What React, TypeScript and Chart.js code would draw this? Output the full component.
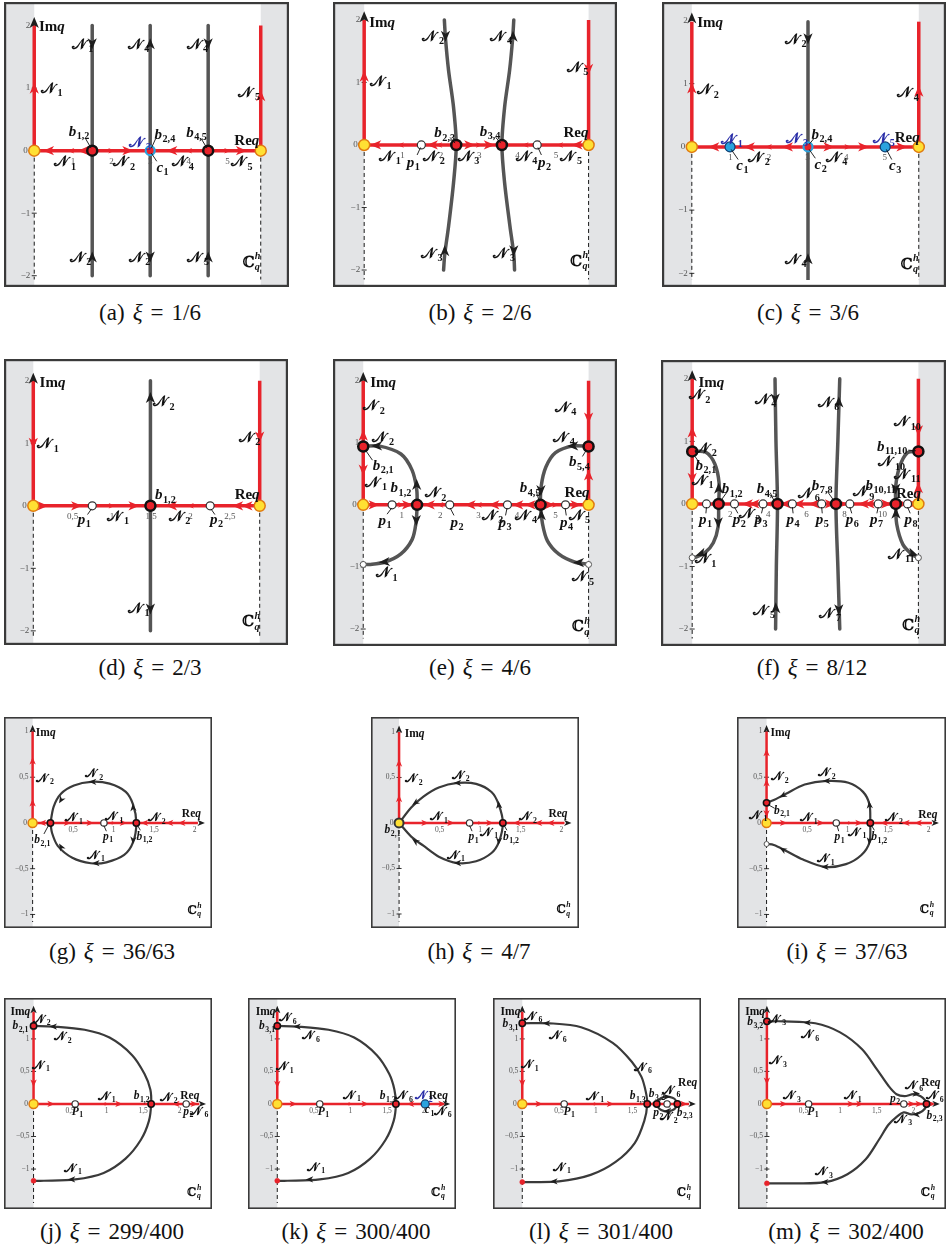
import { useEffect, useRef } from 'react';
import { Chart, registerables } from 'chart.js';

Chart.register(...registerables);

type P = [number, number];
type Arrow = [number, number, number, number?];
type Label = [string, number, number, string?, string?];
type Leader = [number, number, number, number];

// shared tick lists
const Y_TICKS_BIG: [number, string][] = [[2, '2'], [1, '1'], [0, '0'], [-1, '\u22121'], [-2, '\u22122']];
const Y_TICKS_SMALL: [number, string][] = [[1, '1'], [0.5, '0,5'], [0, '0'], [-0.5, '\u22120,5'], [-1, '\u22121']];
const X_TICKS_INT: [number, string][] = [[1, '1'], [2, '2'], [3, '3'], [4, '4'], [5, '5']];
const X_TICKS_HALF: [number, string][] = [[0.5, '0,5'], [1, '1'], [1.5, '1,5'], [2, '2'], [2.5, '2,5']];
const X_TICKS_EVEN: [number, string][] = [[2, '2'], [4, '4'], [6, '6'], [8, '8'], [10, '10']];
const X_TICKS_SMALL: [number, string][] = [[0.5, '0,5'], [1, '1'], [1.5, '1,5'], [2, '2']];

// ---------------- (a) xi = 1/6
const A_RED: P[][] = [[[0, 0], [0, 2]], [[0, 0], [5.86, 0]], [[5.86, 0], [5.86, 2]]];
const A_GREY: P[][] = [[[1.5, 2], [1.5, -2]], [[3, 2], [3, -2]], [[4.5, 2], [4.5, -2]]];
const A_DASH: P[][] = [[[0, 0], [0, -2.2]], [[5.86, 0], [5.86, -2.2]]];
const A_RED_ARROWS: Arrow[] = [[0, 1.0, 90], [5.86, 0.88, 90], [0.37, 0, 180], [0.95, 0, 180, 0.6], [1.27, 0, 180], [2.0, 0, 0, 0.6], [2.42, 0, 0], [3.56, 0, 180], [4.0, 0, 180, 0.6], [5.0, 0, 0, 0.6], [5.36, 0, 0]];
const A_BLACK_ARROWS: Arrow[] = [[0, 2.05, 90], [1.5, 1.71, 270], [1.5, -1.7, 90], [3, 1.71, 90], [3, -1.7, 270], [4.5, 1.71, 270], [4.5, -1.7, 90]];
const A_YELLOW: P[] = [[0, 0], [5.86, 0]];
const A_BRANCH: P[] = [[1.5, 0], [4.5, 0]];
const A_CRITB: P[] = [[3, 0]];
const A_LABELS: Label[] = [
  ['Imq', 0.12, 2.0, 'l'], ['N_1', 0.17, 1.0, 'l'], ['N_1', 1.25, 1.71], ['N_4', 2.7, 1.71], ['N_4', 4.22, 1.71],
  ['N_5', 5.56, 0.94], ['b_{1,2}', 1.16, 0.32], ['N_3', 2.74, 0.14, 'c', 'blue'], ['b_{2,4}', 3.38, 0.27],
  ['b_{4,5}', 4.2, 0.3], ['Req', 5.5, 0.17], ['N_1', 0.8, -0.17], ['N_2', 2.33, -0.17], ['c_1', 3.32, -0.26],
  ['N_4', 3.85, -0.17], ['N_5', 5.37, -0.17], ['N_2', 1.2, -1.7], ['N_2', 2.72, -1.7], ['N_5', 4.24, -1.7], ['C_q^h', 5.62, -1.78],
];
const A_LEADERS: Leader[] = [[1.33, 0.19, 1.47, 0.04], [3.14, 0.19, 3.03, 0.04], [4.32, 0.19, 4.47, 0.04], [3.03, -0.04, 3.17, -0.17]];

// ---------------- (b) xi = 2/6
const B_RED: P[][] = [[[0, 0], [0, 2]], [[0, 0], [5.85, 0]], [[5.85, 0], [5.85, 2]]];
const B_GREY: P[][] = [
  [[2.09, 2.0], [2.12, 1.7], [2.2, 1.19], [2.33, 0.6], [2.4, 0], [2.33, -0.6], [2.2, -1.3], [2.1, -1.75], [2.07, -2.0]],
  [[3.9, 2.0], [3.87, 1.7], [3.79, 1.19], [3.66, 0.6], [3.59, 0], [3.66, -0.6], [3.8, -1.3], [3.9, -1.75], [3.92, -2.0]],
];
const B_DASH: P[][] = [[[0, 0], [0, -2.2]], [[5.85, 0], [5.85, -2.2]]];
const B_RED_ARROWS: Arrow[] = [[0, 1.1, 90], [5.85, 1.21, 270], [0.3, 0, 180], [0.95, 0, 180, 0.6], [1.78, 0, 180], [1.95, 0, 180, 0.6], [2.75, 0, 0], [3.0, 0, 0, 0.6], [3.26, 0, 0], [4.2, 0, 180, 0.6], [4.45, 0, 180], [5.1, 0, 180, 0.6], [5.55, 0, 180]];
const B_BLACK_ARROWS: Arrow[] = [[0, 2.05, 90], [2.12, 1.74, 270], [2.1, -1.69, 90], [3.88, 1.74, 90], [3.9, -1.69, 270]];
const B_YELLOW: P[] = [[0, 0], [5.85, 0]];
const B_BRANCH: P[] = [[2.4, 0], [3.59, 0]];
const B_POLES: P[] = [[1.49, 0], [4.51, 0]];
const B_LABELS: Label[] = [
  ['Imq', 0.13, 1.97, 'l'], ['N_1', 0.15, 1.03, 'l'], ['N_2', 1.8, 1.74], ['N_4', 3.57, 1.74], ['N_5', 5.56, 1.25],
  ['b_{2,3}', 2.1, 0.2], ['b_{3,4}', 3.28, 0.22], ['Req', 5.52, 0.2], ['N_1', 0.67, -0.18], ['p_1', 1.28, -0.27],
  ['N_2', 1.82, -0.18], ['N_3', 2.72, -0.18], ['N_4', 4.23, -0.18], ['p_2', 4.7, -0.27], ['N_5', 5.4, -0.18],
  ['N_3', 1.76, -1.73], ['N_3', 3.65, -1.73], ['C_q^h', 5.6, -1.85],
];
const B_LEADERS: Leader[] = [[2.24, 0.12, 2.37, 0.03], [3.43, 0.12, 3.56, 0.03], [1.47, -0.04, 1.38, -0.16], [4.53, -0.04, 4.62, -0.16]];

// ---------------- (c) xi = 3/6
const C_RED: P[][] = [[[0, 0], [0, 1.98]], [[0, 0], [5.88, 0]], [[5.88, 0], [5.88, 1.98]]];
const C_GREY: P[][] = [[[3.01, 1.98], [3.01, -2.1]]];
const C_DASH: P[][] = [[[0, 0], [0, -2.2]], [[5.88, 0], [5.88, -2.2]]];
const C_RED_ARROWS: Arrow[] = [[0, 0.93, 90], [5.88, 0.88, 90], [0.57, 0, 180], [1.49, 0, 180], [1.99, 0, 180, 0.6], [2.48, 0, 180], [3.55, 0, 0], [4.04, 0, 0, 0.6], [4.45, 0, 0], [5.44, 0, 0]];
const C_BLACK_ARROWS: Arrow[] = [[0, 2.04, 90], [3.01, 1.71, 270], [3.01, -1.77, 90]];
const C_YELLOW: P[] = [[0, 0], [5.88, 0]];
const C_CRIT: P[] = [[0.99, 0], [5.01, 0]];
const C_CRITB: P[] = [[3.01, 0]];
const C_LABELS: Label[] = [
  ['Imq', 0.14, 1.98, 'l'], ['N_2', 0.14, 0.91, 'l'], ['N_2', 2.69, 1.71], ['N_4', 5.6, 0.86],
  ['N_1', 1.04, 0.13, 'c', 'blue'], ['N_3', 2.73, 0.14, 'c', 'blue'], ['b_{2,4}', 3.37, 0.2], ['N_5', 4.98, 0.14, 'c', 'blue'],
  ['Req', 5.58, 0.16], ['c_1', 1.31, -0.29], ['N_2', 1.74, -0.16], ['c_2', 3.34, -0.27], ['N_4', 3.75, -0.16],
  ['c_3', 5.27, -0.28], ['N_4', 2.69, -1.77], ['C_q^h', 5.64, -1.85],
];
const C_LEADERS: Leader[] = [[1.02, -0.04, 1.2, -0.2], [3.04, 0.04, 3.16, 0.13], [3.04, -0.04, 3.2, -0.18], [5.04, -0.04, 5.18, -0.2]];

// ---------------- (d) xi = 2/3
const D_RED: P[][] = [[[0, 0], [0, 2]], [[0, 0], [2.88, 0]], [[2.88, 0], [2.88, 2]]];
const D_GREY: P[][] = [[[1.49, 2.0], [1.49, -2.0]]];
const D_DASH: P[][] = [[[0, 0], [0, -2.2]], [[2.88, 0], [2.88, -2.2]]];
const D_RED_ARROWS: Arrow[] = [[0, 1.0, 270], [2.88, 1.1, 270], [0.12, 0, 0], [0.55, 0, 0], [1.0, 0, 0, 0.6], [1.28, 0, 0], [1.76, 0, 180], [2.0, 0, 180, 0.6], [2.6, 0, 180], [2.72, 0, 180]];
const D_BLACK_ARROWS: Arrow[] = [[0, 2.04, 90], [1.49, 1.73, 90], [1.49, -1.65, 270]];
const D_YELLOW: P[] = [[0, 0], [2.88, 0]];
const D_BRANCH: P[] = [[1.49, 0]];
const D_POLES: P[] = [[0.75, 0], [2.25, 0]];
const D_LABELS: Label[] = [
  ['Imq', 0.08, 1.98, 'l'], ['N_1', 0.05, 1.0, 'l'], ['N_2', 1.66, 1.67], ['N_2', 2.75, 1.1], ['b_{1,2}', 1.68, 0.18],
  ['Req', 2.72, 0.18], ['p_1', 0.65, -0.21], ['N_1', 1.08, -0.16], ['N_2', 1.86, -0.16], ['p_2', 2.33, -0.21],
  ['N_1', 1.34, -1.63], ['C_q^h', 2.77, -1.85],
];
const D_LEADERS: Leader[] = [[0.74, -0.05, 0.69, -0.14], [2.26, -0.05, 2.31, -0.14]];

// ---------------- (e) xi = 4/6
const E_RED: P[][] = [[[0, 0], [0, 2]], [[0, 0], [5.86, 0]], [[5.86, 0], [5.86, 2]]];
const E_GREY: P[][] = [
  [[0, 0.94], [0.4, 0.95], [0.98, 0.82], [1.27, 0.56], [1.39, 0.25], [1.4, 0], [1.37, -0.3], [1.27, -0.56], [0.98, -0.79], [0.57, -0.92], [0.16, -0.96], [0, -0.96]],
  [[5.86, 0.94], [5.45, 0.95], [5.0, 0.84], [4.75, 0.61], [4.63, 0.31], [4.61, 0], [4.66, -0.3], [4.79, -0.58], [5.08, -0.79], [5.49, -0.92], [5.86, -0.96]],
];
const E_DASH: P[][] = [[[0, 0], [0, -2.2]], [[5.86, 0], [5.86, -2.2]]];
const E_RED_ARROWS: Arrow[] = [[0, 1.12, 90], [0, 0.56, 270], [5.86, 1.4, 270], [5.86, 0.48, 90], [0.28, 0, 0], [0.99, 0, 0, 0.6], [1.15, 0, 0], [1.72, 0, 180], [2.0, 0, 180, 0.6], [2.78, 0, 180], [3.0, 0, 180, 0.6], [3.4, 0, 180], [4.02, 0, 180], [4.34, 0, 180], [4.84, 0, 0], [5.0, 0, 0, 0.6], [5.53, 0, 0]];
const E_BLACK_ARROWS: Arrow[] = [[0, 2.05, 90], [0.35, 0.95, 180], [1.39, 0.33, 90], [1.38, -0.25, 270], [0.55, -0.92, 185], [5.45, 0.95, 180], [4.62, 0.23, 270], [4.63, -0.16, 90], [5.6, -0.93, 180]];
const E_YELLOW: P[] = [[0, 0], [5.86, 0]];
const E_BRANCH: P[] = [[0, 0.94], [1.4, 0], [4.61, 0], [5.86, 0.94]];
const E_POLES: P[] = [[0.75, 0], [2.25, 0], [3.75, 0], [5.26, 0]];
const E_SMALLW: P[] = [[0, -0.96], [5.86, -0.96]];
const E_LABELS: Label[] = [
  ['Imq', 0.18, 1.98, 'l'], ['N_2', 0.28, 1.6], ['N_2', 0.52, 1.1], ['b_{2,1}', 0.52, 0.64], ['N_1', 0.34, 0.37],
  ['b_{1,2}', 0.98, 0.28], ['N_2', 1.88, 0.2], ['N_4', 5.26, 1.58], ['N_4', 5.22, 1.1], ['b_{5,4}', 5.62, 0.7],
  ['b_{4,5}', 4.34, 0.28], ['Req', 5.56, 0.21], ['p_1', 0.57, -0.24], ['p_2', 2.44, -0.27], ['N_3', 3.36, -0.16],
  ['p_3', 3.69, -0.27], ['N_4', 4.24, -0.16], ['p_4', 5.29, -0.27], ['N_5', 5.62, -0.16], ['N_1', 0.61, -1.09],
  ['N_5', 5.72, -1.15], ['C_q^h', 5.66, -1.96],
];
const E_LEADERS: Leader[] = [[0.06, 0.88, 0.24, 0.72], [0.74, -0.05, 0.62, -0.15], [2.26, -0.05, 2.36, -0.17], [3.74, -0.05, 3.7, -0.17], [5.25, -0.05, 5.28, -0.17], [5.8, 0.88, 5.7, 0.78], [4.5, 0.22, 4.58, 0.05]];

// ---------------- (f) xi = 8/12
const F_RED: P[][] = [[[0, 0], [0, 2]], [[0, 0], [11.88, 0]], [[11.88, 0], [11.88, 2]]];
const F_GREY: P[][] = [
  [[0, 0.84], [0.7, 0.83], [1.19, 0.64], [1.41, 0.34], [1.39, 0], [1.36, -0.37], [1.11, -0.62], [0.7, -0.77], [0.2, -0.85], [0, -0.86]],
  [[4.35, 2.0], [4.4, 1.0], [4.48, 0], [4.42, -1.0], [4.38, -2.0]],
  [[7.75, 2.0], [7.65, 1.0], [7.55, 0], [7.65, -1.0], [7.75, -2.0]],
  [[11.88, 0.84], [11.31, 0.82], [10.9, 0.6], [10.69, 0.29], [10.69, 0], [10.74, -0.32], [11.07, -0.65], [11.56, -0.81], [11.88, -0.86]],
];
const F_DASH: P[][] = [[[0, 0], [0, -2.2]], [[11.88, 0], [11.88, -2.2]]];
const F_RED_ARROWS: Arrow[] = [[0, 1.15, 90], [0, 0.41, 270], [11.88, 1.17, 270], [11.88, 0.26, 90], [2.9, 0, 180], [3.25, 0, 180], [4.0, 0, 180, 0.6], [4.9, 0, 180], [5.6, 0, 180], [6.4, 0, 180], [7.25, 0, 0], [8.0, 0, 0, 0.6], [9.0, 0, 180], [9.3, 0, 180], [10.2, 0, 0], [11.05, 0, 0], [11.6, 0, 0]];
const F_BLACK_ARROWS: Arrow[] = [[0, 2.05, 90], [1.39, 0.25, 90], [1.37, -0.3, 270], [0.45, -0.8, 200], [4.36, 1.68, 270], [4.39, -1.66, 90], [7.7, 1.63, 90], [7.7, -1.69, 270], [10.69, 0.24, 270], [10.7, -0.15, 90], [11.6, -0.8, 340]];
const F_YELLOW: P[] = [[0, 0], [11.88, 0]];
const F_BRANCH: P[] = [[0, 0.84], [1.39, 0], [4.48, 0], [7.55, 0], [10.69, 0], [11.88, 0.84]];
const F_POLES: P[] = [[0.75, 0], [2.22, 0], [3.72, 0], [5.26, 0], [6.8, 0], [8.28, 0], [9.77, 0], [11.31, 0]];
const F_SMALLW: P[] = [[0, -0.86], [11.88, -0.86]];
const F_LABELS: Label[] = [
  ['Imq', 0.33, 1.95, 'l'], ['N_2', 0.39, 1.75], ['N_2', 0.72, 0.9], ['b_{2,1}', 0.72, 0.62], ['N_1', 0.55, 0.38],
  ['b_{1,2}', 2.1, 0.25], ['N_4', 3.85, 1.68], ['N_8', 7.16, 1.63], ['N_{10}', 11.31, 1.32], ['b_{11,10}', 10.5, 0.93],
  ['N_{10}', 10.48, 0.68], ['N_{11}', 11.31, 0.48], ['b_{4,5}', 3.93, 0.25], ['N_6', 6.13, 0.18], ['b_{7,8}', 6.83, 0.31],
  ['N_9', 8.99, 0.2], ['b_{10,11}', 9.9, 0.31], ['Req', 11.36, 0.18], ['p_1', 0.7, -0.24], ['p_2', 2.48, -0.24],
  ['N_3', 3.02, -0.15], ['p_3', 3.62, -0.24], ['p_4', 5.3, -0.24], ['p_5', 6.83, -0.24], ['p_6', 8.41, -0.24],
  ['p_7', 9.68, -0.24], ['p_8', 11.5, -0.24], ['N_1', 0.7, -0.87], ['N_{11}', 10.99, -0.8], ['N_5', 3.78, -1.69],
  ['N_7', 7.25, -1.74], ['C_q^h', 11.5, -1.93],
];
const F_LEADERS: Leader[] = [[0.75, -0.05, 0.72, -0.15], [2.22, -0.05, 2.4, -0.15], [3.72, -0.05, 3.64, -0.15], [5.26, -0.05, 5.3, -0.15], [6.8, -0.05, 6.83, -0.15], [8.28, -0.05, 8.38, -0.15], [9.77, -0.05, 9.7, -0.15], [11.31, -0.05, 11.45, -0.15], [1.5, 0.05, 1.85, 0.2], [4.3, 0.05, 4.1, 0.18], [7.45, 0.05, 7.1, 0.2], [11.35, 0.86, 11.75, 0.85], [0.1, 0.78, 0.4, 0.65]];

// ---------------- (g) xi = 36/63
const G_RED: P[][] = [[[0, 0], [0, 1.0]], [[0, 0], [2.04, 0]]];
const G_GREY: P[][] = [[[0.22, 0], [0.26, 0.18], [0.35, 0.32], [0.51, 0.41], [0.72, 0.45], [0.95, 0.43], [1.15, 0.34], [1.24, 0.2], [1.28, 0], [1.24, -0.21], [1.13, -0.35], [0.91, -0.43], [0.72, -0.44], [0.49, -0.38], [0.31, -0.25], [0.24, -0.11], [0.22, 0]]];
const G_DASH: P[][] = [[[0, 0], [0, -1.12]]];
const G_RED_ARROWS: Arrow[] = [[0, 0.22, 90], [0, 0.68, 90], [0.12, 0, 180], [0.43, 0, 0], [0.71, 0, 0], [1.0, 0, 0, 0.6], [1.12, 0, 0], [1.38, 0, 180], [1.69, 0, 180], [1.84, 0, 180]];
const G_BLACK_ARROWS: Arrow[] = [[0, 1.03, 90], [2.08, 0, 0], [0.74, 0.45, 180], [0.35, 0.25, 240], [1.24, 0.17, 95], [1.24, -0.19, 265], [0.78, -0.44, 180], [0.35, -0.26, 120]];
const G_YELLOW: P[] = [[0, 0]];
const G_BRANCH: P[] = [[0.22, 0], [1.28, 0]];
const G_POLES: P[] = [[0.88, 0]];
const G_LABELS: Label[] = [
  ['Imq', 0.04, 0.99, 'l'], ['N_2', 0.04, 0.49, 'l'], ['N_2', 0.76, 0.54], ['N_1', 0.51, 0.06], ['N_1', 1.01, 0.07],
  ['N_2', 1.53, 0.06], ['Req', 1.96, 0.11], ['b_{2,1}', 0.12, -0.18], ['p_1', 0.93, -0.14], ['b_{1,2}', 1.38, -0.14],
  ['N_1', 0.78, -0.35], ['C_q^h', 2.0, -0.95],
];
const G_LEADERS: Leader[] = [[0.2, -0.02, 0.14, -0.12], [0.88, -0.03, 0.91, -0.09], [1.29, -0.02, 1.33, -0.08]];

// ---------------- (h) xi = 4/7
const H_RED: P[][] = [[[0, 0], [0, 1.0]], [[0, 0], [2.04, 0]]];
const H_GREY: P[][] = [[[0, 0], [0.15, 0.17], [0.3, 0.29], [0.49, 0.39], [0.72, 0.44], [0.95, 0.43], [1.14, 0.34], [1.23, 0.2], [1.28, 0], [1.23, -0.21], [1.14, -0.33], [0.95, -0.42], [0.72, -0.44], [0.49, -0.37], [0.3, -0.25], [0.15, -0.15], [0, 0]]];
const H_DASH: P[][] = [[[0, 0], [0, -1.12]]];
const H_RED_ARROWS: Arrow[] = [[0, 0.27, 90], [0, 0.66, 90], [0.32, 0, 0], [0.64, 0, 0], [1.0, 0, 0, 0.6], [1.12, 0, 0], [1.45, 0, 180], [1.72, 0, 180], [1.87, 0, 180]];
const H_BLACK_ARROWS: Arrow[] = [[0, 1.03, 90], [2.08, 0, 0], [0.72, 0.44, 180], [0.2, 0.22, 215], [1.23, 0.2, 95], [1.23, -0.2, 265], [0.72, -0.44, 180], [0.2, -0.2, 145]];
const H_YRING: P[] = [[0, 0]];
const H_BRANCH: P[] = [[1.28, 0]];
const H_POLES: P[] = [[0.87, 0]];
const H_LABELS: Label[] = [
  ['Imq', 0.07, 0.99, 'l'], ['N_2', 0.07, 0.49, 'l'], ['N_2', 0.76, 0.53], ['N_1', 0.49, 0.07], ['N_2', 1.59, 0.07],
  ['Req', 1.96, 0.11], ['b_{2,1}', -0.08, -0.07], ['p_1', 0.92, -0.15], ['N_1', 1.11, -0.1], ['b_{1,2}', 1.38, -0.15],
  ['N_1', 0.7, -0.35], ['C_q^h', 2.03, -0.95],
];
const H_LEADERS: Leader[] = [[0.87, -0.03, 0.9, -0.09], [1.29, -0.02, 1.33, -0.08]];

// ---------------- (i) xi = 37/63
const I_RED: P[][] = [[[0, 0], [0, 1.0]], [[0, 0], [2.04, 0]]];
const I_GREY: P[][] = [
  [[0, 0.22], [0.09, 0.25], [0.24, 0.32], [0.47, 0.42], [0.74, 0.46], [1.01, 0.44], [1.19, 0.34], [1.27, 0.2], [1.28, 0]],
  [[1.28, 0], [1.27, -0.21], [1.17, -0.35], [0.98, -0.45], [0.72, -0.48], [0.45, -0.4], [0.23, -0.3], [0.09, -0.24], [0, -0.23]],
];
const I_DASH: P[][] = [[[0, 0], [0, -1.12]]];
const I_RED_ARROWS: Arrow[] = [[0, 0.77, 90], [0, 0.44, 90], [0, 0.1, 270], [0.21, 0, 0], [0.67, 0, 0], [1.03, 0, 0, 0.6], [1.14, 0, 0], [1.45, 0, 180], [1.72, 0, 180], [1.87, 0, 180]];
const I_BLACK_ARROWS: Arrow[] = [[0, 1.03, 90], [2.08, 0, 0], [0.74, 0.46, 180], [0.2, 0.3, 210], [1.27, 0.2, 95], [1.27, -0.2, 265], [0.72, -0.48, 180], [0.2, -0.29, 150]];
const I_YELLOW: P[] = [[0, 0]];
const I_BRANCH: P[] = [[0, 0.22], [1.28, 0]];
const I_POLES: P[] = [[0.86, 0]];
const I_SMALLW: P[] = [[0, -0.23]];
const I_LABELS: Label[] = [
  ['Imq', 0.05, 0.99, 'l'], ['N_2', 0.05, 0.51, 'l'], ['N_2', 0.74, 0.55], ['b_{2,1}', 0.19, 0.14], ['N_1', -0.1, 0.09],
  ['N_1', 0.52, 0.06], ['N_1', 1.12, -0.1], ['N_2', 1.57, 0.06], ['Req', 1.99, 0.1], ['p_1', 0.9, -0.15],
  ['b_{1,2}', 1.39, -0.15], ['N_1', 0.73, -0.39], ['C_q^h', 1.98, -0.94],
];
const I_LEADERS: Leader[] = [[0.02, 0.2, 0.1, 0.16], [0.87, -0.03, 0.89, -0.09], [1.29, -0.02, 1.33, -0.08]];

// ---------------- (j) xi = 299/400
const J_RED: P[][] = [[[0, 0], [0, 1.42]], [[0, 0], [2.27, 0]]];
const J_GREY: P[][] = [[[0, 1.2], [0.27, 1.19], [0.7, 1.14], [1.04, 1.02], [1.35, 0.75], [1.52, 0.46], [1.6, 0.22], [1.61, 0], [1.58, -0.26], [1.47, -0.55], [1.26, -0.84], [0.96, -1.06], [0.57, -1.16], [0.14, -1.18], [0, -1.18]]];
const J_DASH: P[][] = [[[0, 0], [0, -1.6]]];
const J_RED_ARROWS: Arrow[] = [[0, 0.32, 270], [0.24, 0, 0], [1.0, 0, 0, 0.6], [1.17, 0, 0], [1.95, 0, 180], [2.2, 0, 0]];
const J_BLACK_ARROWS: Arrow[] = [[0, 1.45, 90], [2.31, 0, 0], [0.27, 1.19, 180], [0.52, -1.16, 180]];
const J_YELLOW: P[] = [[0, 0]];
const J_BRANCH: P[] = [[0, 1.2], [1.61, 0]];
const J_POLES: P[] = [[0.57, 0], [2.09, 0]];
const J_SMALLR: P[] = [[0, -1.18]];
const J_LABELS: Label[] = [
  ['Imq', -0.18, 1.43], ['N_2', 0.11, 1.31], ['b_{2,1}', -0.18, 1.21], ['N_2', 0.4, 1.04], ['N_1', 0.1, 0.6],
  ['N_1', 1.0, 0.12], ['b_{1,2}', 1.48, 0.13], ['N_2', 1.85, 0.11], ['Req', 2.14, 0.14], ['P_1', 0.6, -0.11],
  ['p_2', 2.12, -0.11], ['N_6', 2.27, -0.11], ['N_1', 0.54, -0.98], ['C_q^h', 2.2, -1.35],
];

// ---------------- (k) xi = 300/400
const K_RED: P[][] = [[[0, 0], [0, 1.42]], [[0, 0], [2.27, 0]]];
const K_GREY: P[][] = [[[0, 1.2], [0.27, 1.19], [0.7, 1.14], [1.05, 1.02], [1.36, 0.75], [1.53, 0.46], [1.6, 0.22], [1.62, 0], [1.59, -0.26], [1.48, -0.55], [1.27, -0.84], [0.97, -1.06], [0.58, -1.16], [0.14, -1.18], [0, -1.18]]];
const K_DASH: P[][] = [[[0, 0], [0, -1.6]]];
const K_RED_ARROWS: Arrow[] = [[0, 0.3, 270], [0.22, 0, 0], [1.0, 0, 0, 0.6], [1.2, 0, 0], [1.82, 0, 180], [2.25, 0, 0]];
const K_BLACK_ARROWS: Arrow[] = [[0, 1.45, 90], [2.31, 0, 0], [0.27, 1.19, 180], [0.44, -1.16, 180]];
const K_YELLOW: P[] = [[0, 0]];
const K_BRANCH: P[] = [[0, 1.2], [1.62, 0]];
const K_POLES: P[] = [[0.58, 0]];
const K_CRIT: P[] = [[2.02, 0]];
const K_SMALLR: P[] = [[0, -1.18]];
const K_LABELS: Label[] = [
  ['Imq', -0.16, 1.43], ['N_6', 0.14, 1.33], ['b_{3,1}', -0.14, 1.21], ['N_6', 0.46, 1.05], ['N_1', 0.1, 0.58],
  ['N_1', 1.02, 0.14], ['b_{1,3}', 1.51, 0.13], ['N_6', 1.73, 0.13], ['N_2', 2.0, 0.13, 'c', 'blue'], ['Req', 2.2, 0.13],
  ['c_1', 2.08, -0.08], ['N_6', 2.26, -0.11], ['P_1', 0.63, -0.11], ['N_1', 0.53, -0.97], ['C_q^h', 2.2, -1.35],
];

// ---------------- (l) xi = 301/400
const L_RED: P[][] = [[[0, 0], [0, 1.42]], [[0, 0], [2.27, 0]]];
const L_GREY: P[][] = [
  [[0, 1.24], [0.37, 1.24], [0.8, 1.18], [1.23, 0.94], [1.49, 0.65], [1.62, 0.42], [1.68, 0.19], [1.7, 0], [1.66, -0.26], [1.53, -0.6], [1.27, -0.89], [0.93, -1.09], [0.5, -1.19], [0.07, -1.2], [0, -1.2]],
  [[1.83, 0], [1.86, 0.07], [1.93, 0.11], [2.0, 0.11], [2.07, 0.08], [2.11, 0], [2.07, -0.08], [2.0, -0.11], [1.93, -0.11], [1.86, -0.07], [1.83, 0]],
];
const L_DASH: P[][] = [[[0, 0], [0, -1.6]]];
const L_RED_ARROWS: Arrow[] = [[0, 0.32, 270], [0.23, 0, 0], [1.0, 0, 0, 0.6], [1.2, 0, 0], [1.78, 0, 180], [2.2, 0, 0]];
const L_BLACK_ARROWS: Arrow[] = [[0, 1.45, 90], [2.31, 0, 0], [0.33, 1.24, 180], [0.43, -1.19, 180], [1.97, 0.11, 0], [1.97, -0.11, 180]];
const L_YELLOW: P[] = [[0, 0]];
const L_BRANCH: P[] = [[0, 1.24], [1.7, 0], [1.83, 0], [2.11, 0]];
const L_POLES: P[] = [[0.57, 0], [1.97, 0]];
const L_SMALLR: P[] = [[0, -1.2]];
const L_LABELS: Label[] = [
  ['Imq', -0.16, 1.43], ['N_6', 0.15, 1.35], ['b_{3,1}', -0.16, 1.24], ['N_6', 0.48, 1.05], ['N_1', 0.1, 0.61],
  ['N_6', 1.64, 0.57], ['N_1', 0.99, 0.12], ['b_{1,3}', 1.57, 0.13], ['b_{3,2}', 1.83, 0.16], ['N_6', 2.03, 0.21],
  ['Req', 2.25, 0.33], ['P_1', 0.64, -0.11], ['p_2', 1.85, -0.13], ['N_2', 1.99, -0.19], ['b_{2,3}', 2.21, -0.12],
  ['N_1', 0.54, -0.97], ['C_q^h', 2.2, -1.35],
];

// ---------------- (m) xi = 302/400
const M_RED: P[][] = [[[0, 0], [0, 1.42]], [[0, 0], [2.27, 0]]];
const M_GREY: P[][] = [
  [[0, 1.27], [0.23, 1.27], [0.66, 1.24], [1.0, 1.1], [1.3, 0.84], [1.51, 0.52], [1.66, 0.28], [1.77, 0.15], [1.88, 0.12], [2.0, 0.15], [2.1, 0.12], [2.16, 0.06], [2.18, 0]],
  [[2.18, 0], [2.16, -0.07], [2.08, -0.14], [1.97, -0.16], [1.87, -0.13], [1.78, -0.19], [1.66, -0.32], [1.53, -0.55], [1.35, -0.85], [1.1, -1.08], [0.8, -1.2], [0.4, -1.22], [0, -1.22]],
];
const M_DASH: P[][] = [[[0, 0], [0, -1.6]]];
const M_RED_ARROWS: Arrow[] = [[0, 0.35, 270], [0.23, 0, 0], [1.15, 0, 0], [1.27, 0, 0], [1.98, 0, 0], [2.08, 0, 0], [2.25, 0, 0]];
const M_BLACK_ARROWS: Arrow[] = [[0, 1.45, 90], [2.31, 0, 0], [0.55, 1.25, 180], [0.79, -1.2, 180], [2.04, 0.16, 0], [2.04, -0.16, 180]];
const M_YELLOW: P[] = [[0, 0]];
const M_BRANCH: P[] = [[0, 1.27], [2.18, 0]];
const M_POLES: P[] = [[0.57, 0], [1.87, 0]];
const M_SMALLR: P[] = [[0, -1.22]];
const M_LABELS: Label[] = [
  ['Imq', -0.16, 1.43], ['b_{3,2}', -0.16, 1.27], ['N_3', 0.14, 1.31], ['N_6', 0.59, 1.07], ['N_3', 0.15, 0.67],
  ['N_6', 2.01, 0.29], ['Req', 2.24, 0.33], ['N_3', 0.34, 0.13], ['N_1', 1.17, 0.13], ['p_2', 1.75, 0.09],
  ['N_6', 2.29, 0.13], ['P_1', 0.63, -0.11], ['N_3', 1.86, -0.23], ['b_{2,3}', 2.29, -0.17], ['N_3', 0.78, -1.04],
  ['C_q^h', 2.2, -1.35],
];

// ---------------- layout of the panels (pixel frames)
const PANELS: any[] = [
  { id: 'a', frac: '1/6', L: 4, T: 2, R: 289, B: 287, x0: 28, y0: 151, ux: 40.8, uy: 66, xR: 5.86, big: true, cx: 150, cy: 313, red: A_RED, grey: A_GREY, dash: A_DASH, ra: A_RED_ARROWS, ba: A_BLACK_ARROWS, pts: { yellow: A_YELLOW, branch: A_BRANCH, critB: A_CRITB }, labels: A_LABELS, leaders: A_LEADERS, xt: X_TICKS_INT, yt: Y_TICKS_BIG },
  { id: 'b', frac: '2/6', L: 333, T: 2, R: 617, B: 287, x0: 358, y0: 145, ux: 40.5, uy: 66, xR: 5.85, big: true, cx: 480, cy: 313, red: B_RED, grey: B_GREY, dash: B_DASH, ra: B_RED_ARROWS, ba: B_BLACK_ARROWS, pts: { yellow: B_YELLOW, branch: B_BRANCH, pole: B_POLES }, labels: B_LABELS, leaders: B_LEADERS, xt: X_TICKS_INT, yt: Y_TICKS_BIG },
  { id: 'c', frac: '3/6', L: 662, T: 2, R: 946, B: 287, x0: 686, y0: 147, ux: 40.6, uy: 66.5, xR: 5.88, big: true, cx: 808, cy: 313, red: C_RED, grey: C_GREY, dash: C_DASH, ra: C_RED_ARROWS, ba: C_BLACK_ARROWS, pts: { yellow: C_YELLOW, crit: C_CRIT, critB: C_CRITB }, labels: C_LABELS, leaders: C_LEADERS, xt: X_TICKS_INT, yt: Y_TICKS_BIG },
  { id: 'd', frac: '2/3', L: 4, T: 359, R: 288, B: 645, x0: 27, y0: 506, ux: 83, uy: 66, xR: 2.88, big: true, cx: 150, cy: 668, red: D_RED, grey: D_GREY, dash: D_DASH, ra: D_RED_ARROWS, ba: D_BLACK_ARROWS, pts: { yellow: D_YELLOW, branch: D_BRANCH, pole: D_POLES }, labels: D_LABELS, leaders: D_LEADERS, xt: X_TICKS_HALF, yt: Y_TICKS_BIG },
  { id: 'e', frac: '4/6', L: 333, T: 359, R: 617, B: 646, x0: 357, y0: 505, ux: 40.6, uy: 65.5, xR: 5.86, big: true, cx: 480, cy: 668, red: E_RED, grey: E_GREY, dash: E_DASH, ra: E_RED_ARROWS, ba: E_BLACK_ARROWS, pts: { yellow: E_YELLOW, branch: E_BRANCH, pole: E_POLES, smallWhite: E_SMALLW }, labels: E_LABELS, leaders: E_LEADERS, xt: X_TICKS_INT, yt: Y_TICKS_BIG },
  { id: 'f', frac: '8/12', L: 661, T: 360, R: 946, B: 646, x0: 686, y0: 504, ux: 20.1, uy: 66, xR: 11.88, big: true, cx: 812, cy: 668, red: F_RED, grey: F_GREY, dash: F_DASH, ra: F_RED_ARROWS, ba: F_BLACK_ARROWS, pts: { yellow: F_YELLOW, branch: F_BRANCH, pole: F_POLES, smallWhite: F_SMALLW }, labels: F_LABELS, leaders: F_LEADERS, xt: X_TICKS_EVEN, yt: Y_TICKS_BIG },
  { id: 'g', frac: '36/63', L: 4, T: 717, R: 212, B: 928, x0: 28, y0: 823, ux: 86, uy: 97, xR: null, big: false, cx: 112, cy: 952, red: G_RED, grey: G_GREY, dash: G_DASH, ra: G_RED_ARROWS, ba: G_BLACK_ARROWS, pts: { yellow: G_YELLOW, branch: G_BRANCH, pole: G_POLES }, labels: G_LABELS, leaders: G_LEADERS, xt: X_TICKS_SMALL, yt: Y_TICKS_SMALL },
  { id: 'h', frac: '4/7', L: 371, T: 717, R: 579, B: 928, x0: 394, y0: 823, ux: 86.5, uy: 97, xR: null, big: false, cx: 479, cy: 952, red: H_RED, grey: H_GREY, dash: H_DASH, ra: H_RED_ARROWS, ba: H_BLACK_ARROWS, pts: { yellowRing: H_YRING, branch: H_BRANCH, pole: H_POLES }, labels: H_LABELS, leaders: H_LEADERS, xt: X_TICKS_SMALL, yt: Y_TICKS_SMALL },
  { id: 'i', frac: '37/63', L: 737, T: 717, R: 946, B: 928, x0: 762, y0: 823, ux: 86, uy: 97, xR: null, big: false, cx: 847, cy: 952, red: I_RED, grey: I_GREY, dash: I_DASH, ra: I_RED_ARROWS, ba: I_BLACK_ARROWS, pts: { yellow: I_YELLOW, branch: I_BRANCH, pole: I_POLES, smallWhite: I_SMALLW }, labels: I_LABELS, leaders: I_LEADERS, xt: X_TICKS_SMALL, yt: Y_TICKS_SMALL },
  { id: 'j', frac: '299/400', L: 4, T: 998, R: 212, B: 1209, x0: 29, y0: 1104, ux: 77.5, uy: 69, xR: null, big: false, cx: 112, cy: 1232, red: J_RED, grey: J_GREY, dash: J_DASH, ra: J_RED_ARROWS, ba: J_BLACK_ARROWS, pts: { yellow: J_YELLOW, branch: J_BRANCH, pole: J_POLES, smallRed: J_SMALLR }, labels: J_LABELS, leaders: [], xt: X_TICKS_SMALL, yt: Y_TICKS_SMALL },
  { id: 'k', frac: '300/400', L: 248, T: 998, R: 456, B: 1209, x0: 272.7, y0: 1104, ux: 77.7, uy: 69, xR: null, big: false, cx: 356, cy: 1232, red: K_RED, grey: K_GREY, dash: K_DASH, ra: K_RED_ARROWS, ba: K_BLACK_ARROWS, pts: { yellow: K_YELLOW, branch: K_BRANCH, pole: K_POLES, crit: K_CRIT, smallRed: K_SMALLR }, labels: K_LABELS, leaders: [], xt: X_TICKS_SMALL, yt: Y_TICKS_SMALL },
  { id: 'l', frac: '301/400', L: 493, T: 998, R: 701, B: 1209, x0: 517.7, y0: 1104, ux: 78, uy: 69, xR: null, big: false, cx: 601, cy: 1232, red: L_RED, grey: L_GREY, dash: L_DASH, ra: L_RED_ARROWS, ba: L_BLACK_ARROWS, pts: { yellow: L_YELLOW, branch: L_BRANCH, pole: L_POLES, smallRed: L_SMALLR }, labels: L_LABELS, leaders: [], xt: X_TICKS_SMALL, yt: Y_TICKS_SMALL },
  { id: 'm', frac: '302/400', L: 738, T: 998, R: 946, B: 1209, x0: 762.3, y0: 1104, ux: 77.7, uy: 69, xR: null, big: false, cx: 846, cy: 1232, red: M_RED, grey: M_GREY, dash: M_DASH, ra: M_RED_ARROWS, ba: M_BLACK_ARROWS, pts: { yellow: M_YELLOW, branch: M_BRANCH, pole: M_POLES, smallRed: M_SMALLR }, labels: M_LABELS, leaders: [], xt: X_TICKS_SMALL, yt: Y_TICKS_SMALL },
];

const RED = '#e8232b';
const BAND = '#e3e4e6';
const SERIF = '"Liberation Serif", "DejaVu Serif", serif';
const SCRIPT_N = '\uD835\uDCA9';
const BIG = { redW: 3.5, greyW: 3.5, greyC: '#555555', lbl: 15, tick: 9, arrow: 11, yellowR: 5.5, branchR: 5, branchBW: 2.5, poleR: 4, critR: 5, smallR: 3, frameW: 2.2, tickOff: 11 };
const SMALL = { redW: 2.5, greyW: 2.2, greyC: '#3a3a3a', lbl: 11.5, tick: 7.5, arrow: 7.5, yellowR: 4.5, branchR: 3.2, branchBW: 1.5, poleR: 3.2, critR: 4, smallR: 2.5, frameW: 1.6, tickOff: 7.5 };

function drawArrow(ctx: CanvasRenderingContext2D, px: number, py: number, deg: number, len: number, color: string) {
  const a = (deg * Math.PI) / 180;
  const c = Math.cos(a), s = -Math.sin(a);
  const nx = -s, ny = c;
  const w = len * 0.42;
  ctx.fillStyle = color;
  ctx.beginPath();
  ctx.moveTo(px + c * len * 0.5, py + s * len * 0.5);
  ctx.lineTo(px - c * len * 0.5 + nx * w, py - s * len * 0.5 + ny * w);
  ctx.lineTo(px - c * len * 0.22, py - s * len * 0.22);
  ctx.lineTo(px - c * len * 0.5 - nx * w, py - s * len * 0.5 - ny * w);
  ctx.closePath();
  ctx.fill();
}

function drawRich(ctx: CanvasRenderingContext2D, text: string, px: number, py: number, size: number, align: string, color: string) {
  const m = /^([A-Za-z]+)(?:_(\{[^}]*\}|[^\^{]))?(?:\^(\{[^}]*\}|.))?$/.exec(text);
  if (!m) return;
  const main = m[1];
  const sub = (m[2] || '').replace(/[{}]/g, '');
  const sup = (m[3] || '').replace(/[{}]/g, '');
  const B = `bold ${size}px ${SERIF}`;
  const BI = `italic bold ${size}px ${SERIF}`;
  const pieces: [string, string, number][] = [];
  if (main === 'N') pieces.push([SCRIPT_N, `bold ${size}px "DejaVu Serif", "DejaVu Sans", serif`, size * 0.14]);
  else if (main === 'Imq' || main === 'Req') { pieces.push([main.slice(0, 2), B, 0]); pieces.push(['q', BI, 0]); }
  else if (main === 'C') pieces.push(['\u2102', `bold ${size}px "DejaVu Serif", serif`, 0]);
  else pieces.push([main, BI, 0]);
  let wMain = 0;
  pieces.forEach(([t, f, extra]) => { ctx.font = f; wMain += ctx.measureText(t).width + extra; });
  const ss = size * 0.68;
  const subF = /^[\d,]+$/.test(sub) ? `bold ${ss}px ${SERIF}` : `italic bold ${ss}px ${SERIF}`;
  const supF = `italic bold ${ss}px ${SERIF}`;
  ctx.font = subF; const wSub = sub ? ctx.measureText(sub).width : 0;
  ctx.font = supF; const wSup = sup ? ctx.measureText(sup).width : 0;
  const total = wMain + Math.max(wSub, wSup) + (sub || sup ? 0.5 : 0);
  let x = align === 'l' ? px : align === 'r' ? px - total : px - total / 2;
  const base = py + size * 0.33;
  ctx.fillStyle = color;
  ctx.textAlign = 'left';
  ctx.textBaseline = 'alphabetic';
  pieces.forEach(([t, f, extra]) => {
    ctx.font = f;
    ctx.fillText(t, x, base);
    x += ctx.measureText(t).width + extra;
  });
  x += 0.5;
  if (sub) { ctx.font = subF; ctx.fillText(sub, x, base + size * 0.22); }
  if (sup) { ctx.font = supF; ctx.fillText(sup, x, base - size * 0.52); }
}

function buildConfig(p: any) {
  const S = p.big ? BIG : SMALL;
  const xmin = (p.L - p.x0) / p.ux, xmax = (p.R - p.x0) / p.ux;
  const ymax = (p.y0 - p.T) / p.uy, ymin = (p.y0 - p.B) / p.uy;
  const xy = (pts: P[]) => pts.map(([x, y]) => ({ x, y }));
  const datasets: any[] = [];
  const kinds: string[] = [];
  const add = (ds: any, k: string) => { datasets.push(ds); kinds.push(k); };
  p.dash.forEach((l: P[]) => add({ data: xy(l), showLine: true, borderColor: '#1a1a1a', borderWidth: 1, borderDash: [4, 3], pointRadius: 0, order: 6 }, 'line'));
  p.grey.forEach((l: P[]) => add({ data: xy(l), showLine: true, borderColor: S.greyC, borderWidth: S.greyW, pointRadius: 0, tension: 0.3, borderCapStyle: 'round', order: 5 }, 'line'));
  p.red.forEach((l: P[]) => add({ data: xy(l), showLine: true, borderColor: RED, borderWidth: S.redW, pointRadius: 0, order: 4 }, 'line'));
  const pt = (arr: P[] | undefined, r: number, bg: string, bc: string, bw: number, order: number) => {
    if (arr && arr.length) add({ data: xy(arr), showLine: false, pointRadius: r, pointHoverRadius: r, pointBackgroundColor: bg, pointBorderColor: bc, pointBorderWidth: bw, order }, 'pts');
  };
  pt(p.pts.smallWhite, S.smallR, '#ffffff', '#555555', 1, 3);
  pt(p.pts.smallRed, S.smallR, RED, RED, 0.5, 3);
  pt(p.pts.pole, S.poleR, '#ffffff', '#333333', 1.2, 2);
  pt(p.pts.crit, S.critR, '#2aa3de', '#0d3f73', 1.2, 2);
  pt(p.pts.critB, S.critR - 0.5, RED, '#2aa3de', 2.2, 2);
  pt(p.pts.branch, S.branchR, RED, '#111111', S.branchBW, 1);
  pt(p.pts.yellow, S.yellowR, '#ffe033', '#e07a10', 1.5, 0);
  pt(p.pts.yellowRing, S.yellowR, '#ffe033', '#333333', 2, 0);

  const state = { arrows: false };
  const drawArrows = (chart: any) => {
    const { ctx, scales: { x, y } } = chart;
    ctx.save();
    p.ra.forEach(([ax, ay, d, k]: Arrow) => drawArrow(ctx, x.getPixelForValue(ax), y.getPixelForValue(ay), d, S.arrow * (k || 1), RED));
    p.ba.forEach(([ax, ay, d, k]: Arrow) => drawArrow(ctx, x.getPixelForValue(ax), y.getPixelForValue(ay), d, S.arrow * (k || 1), '#1e1e1e'));
    ctx.restore();
  };
  const decor = {
    id: 'decor' + p.id,
    beforeDatasetsDraw(chart: any) {
      const { ctx, scales: { x, y }, width, height } = chart;
      ctx.save();
      ctx.fillStyle = '#ffffff';
      ctx.fillRect(0, 0, width, height);
      ctx.fillStyle = BAND;
      const px0 = x.getPixelForValue(0);
      ctx.fillRect(0, 0, px0, height);
      if (p.xR != null) {
        const pr = x.getPixelForValue(p.xR);
        ctx.fillRect(pr, 0, width - pr, height);
      }
      ctx.strokeStyle = '#333';
      ctx.lineWidth = 1;
      p.yt.forEach(([v]: [number, string]) => {
        if (v === 0) return;
        const py = y.getPixelForValue(v);
        ctx.beginPath(); ctx.moveTo(px0 - 2.5, py); ctx.lineTo(px0 + 2.5, py); ctx.stroke();
      });
      ctx.restore();
      state.arrows = false;
    },
    beforeDatasetDraw(chart: any, args: any) {
      if (!state.arrows && kinds[args.index] === 'pts') { drawArrows(chart); state.arrows = true; }
    },
    afterDatasetsDraw(chart: any) {
      if (!state.arrows) { drawArrows(chart); state.arrows = true; }
      const { ctx, scales: { x, y }, width, height } = chart;
      ctx.save();
      const px0 = x.getPixelForValue(0);
      const py0 = y.getPixelForValue(0);
      ctx.fillStyle = '#555';
      ctx.font = `${S.tick}px ${SERIF}`;
      ctx.textAlign = 'right';
      ctx.textBaseline = 'middle';
      p.yt.forEach(([v, t]: [number, string]) => {
        ctx.fillText(t, px0 - (v === 0 ? S.yellowR + 1 : 4), y.getPixelForValue(v));
      });
      ctx.textAlign = 'center';
      p.xt.forEach(([v, t]: [number, string]) => {
        ctx.fillText(t, x.getPixelForValue(v), py0 + S.tickOff);
      });
      ctx.strokeStyle = '#111';
      ctx.lineWidth = 0.9;
      p.leaders.forEach(([a, b, c, d]: Leader) => {
        ctx.beginPath();
        ctx.moveTo(x.getPixelForValue(a), y.getPixelForValue(b));
        ctx.lineTo(x.getPixelForValue(c), y.getPixelForValue(d));
        ctx.stroke();
      });
      p.labels.forEach(([t, lx, ly, al, col]: Label) => {
        drawRich(ctx, t, x.getPixelForValue(lx), y.getPixelForValue(ly), S.lbl, al || 'c', col === 'blue' ? '#2a2ea8' : '#111');
      });
      ctx.strokeStyle = '#3a3a3a';
      ctx.lineWidth = S.frameW;
      ctx.strokeRect(S.frameW / 2, S.frameW / 2, width - S.frameW, height - S.frameW);
      ctx.restore();
    },
  };
  return {
    type: 'scatter' as const,
    data: { datasets },
    options: {
      animation: false as const,
      responsive: false,
      devicePixelRatio: 1,
      events: [],
      layout: { padding: 0 },
      plugins: { legend: { display: false }, tooltip: { enabled: false }, title: { display: false } },
      scales: {
        x: { type: 'linear' as const, display: false, min: xmin, max: xmax },
        y: { type: 'linear' as const, display: false, min: ymin, max: ymax },
      },
    },
    plugins: [decor],
  };
}

function Panel({ p }: { p: any }) {
  const ref = useRef<HTMLCanvasElement | null>(null);
  const w = p.R - p.L, h = p.B - p.T;
  useEffect(() => {
    if (!ref.current) return;
    const chart = new Chart(ref.current, buildConfig(p) as any);
    return () => chart.destroy();
  }, [p]);
  return (
    <>
      <canvas ref={ref} width={w} height={h} style={{ position: 'absolute', left: p.L, top: p.T, width: w, height: h }} />
      <div style={{ position: 'absolute', left: p.cx, top: p.cy, transform: 'translate(-50%, -50%)', font: `23px ${SERIF}`, whiteSpace: 'nowrap', color: '#111' }}>
        ({p.id})<span style={{ marginLeft: 8 }}><i>ξ</i></span><span style={{ margin: '0 8px' }}>=</span>{p.frac}
      </div>
    </>
  );
}

export default function App() {
  return (
    <div style={{ position: 'absolute', left: 0, top: 0, width: 947, height: 1252, background: '#fff', overflow: 'hidden' }}>
      {PANELS.map((p) => <Panel key={p.id} p={p} />)}
    </div>
  );
}
